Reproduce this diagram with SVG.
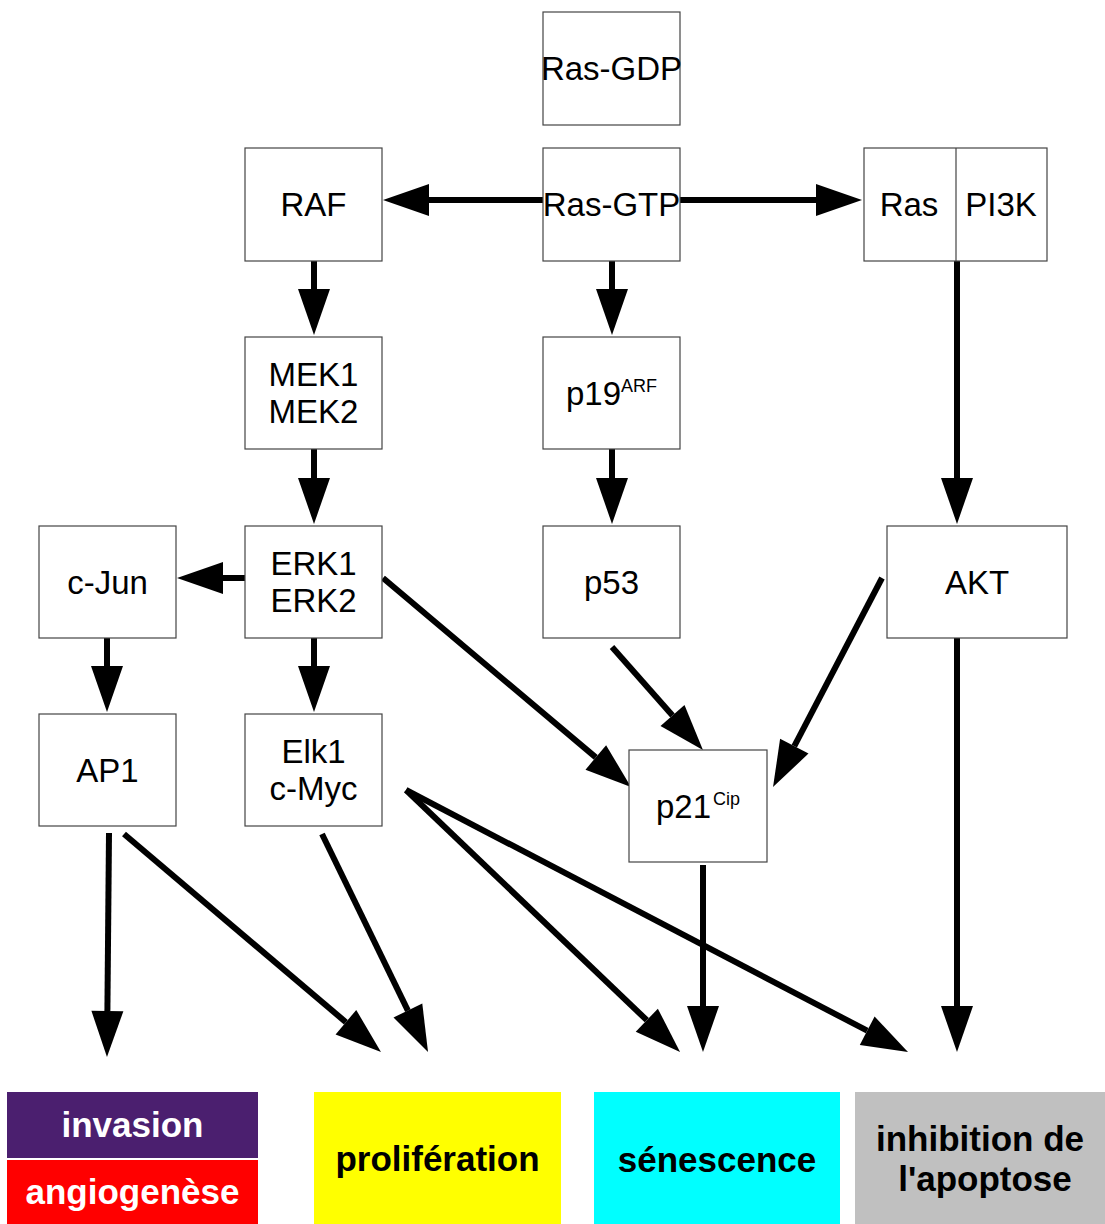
<svg xmlns="http://www.w3.org/2000/svg" width="1105" height="1224" viewBox="0 0 1105 1224">
<style>
.box{fill:#fff;stroke:#444;stroke-width:1.2}
.t{font-family:"Liberation Sans",Arial,sans-serif;font-size:33px;fill:#000;text-anchor:middle}
.sup{font-size:18px}
.b{font-family:"Liberation Sans",Arial,sans-serif;font-size:35px;font-weight:bold;text-anchor:middle}
.c line{stroke:#000;stroke-width:6;marker-end:url(#ah)}
</style>
<defs>
<marker id="ah" markerUnits="userSpaceOnUse" markerWidth="46" markerHeight="32" refX="0" refY="16" orient="auto" overflow="visible">
<path d="M0,0 L46,16 L0,32 z" fill="#000"/>
</marker>
</defs>
<rect width="1105" height="1224" fill="#fff"/>
<g class="c" id="connectors">
<line x1="543" y1="200" x2="429" y2="200"/>
<line x1="680" y1="200" x2="816" y2="200"/>
<line x1="314" y1="261" x2="314" y2="289"/>
<line x1="314" y1="449" x2="314" y2="478"/>
<line x1="612" y1="261" x2="612" y2="289"/>
<line x1="612" y1="449" x2="612" y2="478"/>
<line x1="957" y1="261" x2="957" y2="478"/>
<line x1="245" y1="578" x2="223" y2="578"/>
<line x1="107" y1="638" x2="107" y2="666"/>
<line x1="314" y1="638" x2="314" y2="666"/>
<line x1="383" y1="578" x2="595.8" y2="757.4"/>
<line x1="612" y1="647" x2="672.5" y2="715.5"/>
<line x1="882" y1="578" x2="794.3" y2="746.2"/>
<line x1="957" y1="638" x2="957" y2="1006"/>
<line x1="703" y1="865" x2="703" y2="1006"/>
<line x1="109" y1="833" x2="107.4" y2="1011"/>
<line x1="124" y1="834" x2="345.9" y2="1022.2"/>
<line x1="322" y1="834" x2="407.9" y2="1010.6"/>
<line x1="406" y1="790" x2="646.8" y2="1020.2"/>
<line x1="406" y1="790" x2="867.2" y2="1030.7"/>
</g>
<g id="ras-gdp"><rect class="box" x="543" y="12" width="137" height="113"/><text class="t" x="611.5" y="80">Ras-GDP</text></g>
<g id="raf"><rect class="box" x="245" y="148" width="137" height="113"/><text class="t" x="313.5" y="216">RAF</text></g>
<g id="ras-gtp"><rect class="box" x="543" y="148" width="137" height="113"/><text class="t" x="611.5" y="216">Ras-GTP</text></g>
<g id="ras-pi3k"><rect class="box" x="864" y="148" width="183" height="113"/><line x1="956" y1="148" x2="956" y2="261" stroke="#444" stroke-width="1.2"/><text class="t" x="909" y="216">Ras</text><text class="t" x="1001" y="216">PI3K</text></g>
<g id="mek"><rect class="box" x="245" y="337" width="137" height="112"/><text class="t" x="313.5" y="386">MEK1</text><text class="t" x="313.5" y="423">MEK2</text></g>
<g id="p19"><rect class="box" x="543" y="337" width="137" height="112"/><text class="t" x="611.5" y="405">p19<tspan class="sup" dy="-13">ARF</tspan></text></g>
<g id="cjun"><rect class="box" x="39" y="526" width="137" height="112"/><text class="t" x="107.5" y="594">c-Jun</text></g>
<g id="erk"><rect class="box" x="245" y="526" width="137" height="112"/><text class="t" x="313.5" y="575">ERK1</text><text class="t" x="313.5" y="612">ERK2</text></g>
<g id="p53"><rect class="box" x="543" y="526" width="137" height="112"/><text class="t" x="611.5" y="594">p53</text></g>
<g id="akt"><rect class="box" x="887" y="526" width="180" height="112"/><text class="t" x="977" y="594">AKT</text></g>
<g id="ap1"><rect class="box" x="39" y="714" width="137" height="112"/><text class="t" x="107.5" y="782">AP1</text></g>
<g id="elk1"><rect class="box" x="245" y="714" width="137" height="112"/><text class="t" x="313.5" y="763">Elk1</text><text class="t" x="313.5" y="800">c-Myc</text></g>
<g id="p21"><rect class="box" x="629" y="750" width="138" height="112"/><text class="t" x="698" y="818">p21<tspan class="sup" dx="2" dy="-13">Cip</tspan></text></g>
<g id="invasion"><rect x="7" y="1092" width="251" height="66" fill="#4b1f6f"/><text class="b" x="132.5" y="1137" fill="#fff">invasion</text></g>
<g id="angiogenese"><rect x="7" y="1160" width="251" height="64" fill="#ff0000"/><text class="b" x="132.5" y="1204" fill="#fff">angiogenèse</text></g>
<g id="proliferation"><rect x="314" y="1092" width="247" height="132" fill="#ffff00"/><text class="b" x="437.5" y="1171" fill="#000">prolifération</text></g>
<g id="senescence"><rect x="594" y="1092" width="246" height="132" fill="#00ffff"/><text class="b" x="717" y="1172" fill="#000">sénescence</text></g>
<g id="inhibition"><rect x="855" y="1092" width="250" height="132" fill="#c0c0c0"/><text class="b" x="980" y="1151" fill="#000">inhibition de</text><text class="b" x="985" y="1191" fill="#000">l'apoptose</text></g>
</svg>
